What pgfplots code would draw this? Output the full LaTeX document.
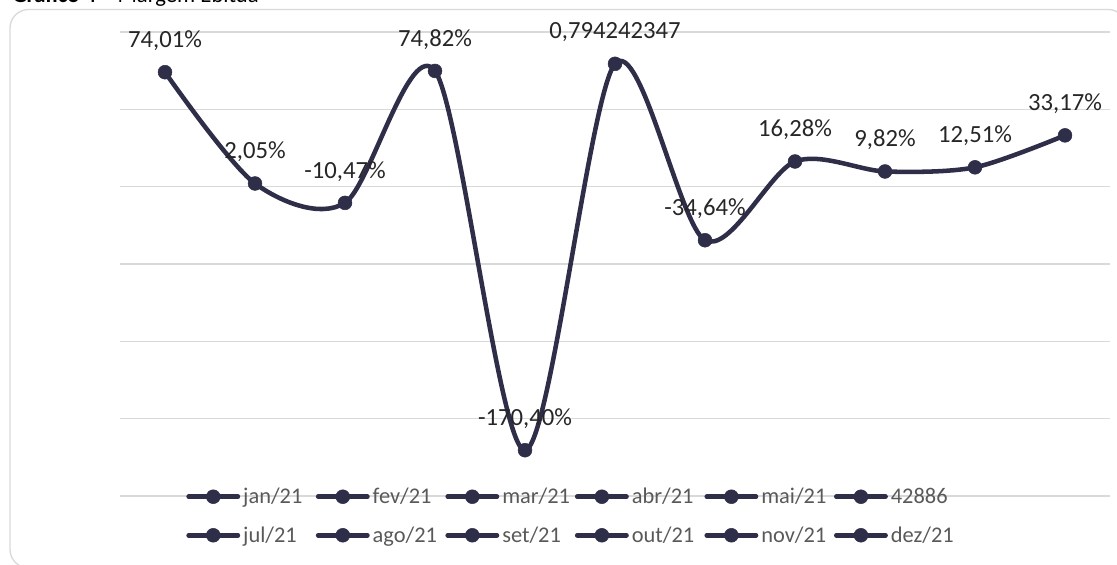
\documentclass[border=0pt]{standalone}
\usepackage{pgfplots}
\pgfplotsset{compat=1.18}
\usepackage{pgfplotstable}
\usepackage{fontspec}
\setmainfont{Carlito}
\definecolor{navy}{HTML}{2F2E49}
\definecolor{gridc}{HTML}{D9D9D9}
\definecolor{lbl}{HTML}{262626}
\definecolor{leg}{HTML}{595959}

\pgfplotstableread{
x y label
0 74.01 {74,01\%}
1 2.05 {2,05\%}
2 -10.47 {-10,47\%}
3 74.82 {74,82\%}
4 -170.40 {-170,40\%}
5 79.42 {0,794242347}
6 -34.64 {-34,64\%}
7 16.28 {16,28\%}
8 9.82 {9,82\%}
9 12.51 {12,51\%}
10 33.17 {33,17\%}
}\datatable

\pgfplotsset{serie/.style={color=navy, line width=3.4pt, line cap=round, line join=round, mark=*, mark size=5.2pt, mark options={fill=navy, draw=navy, line width=0.4pt}}}

\begin{document}
\begin{tikzpicture}
\useasboundingbox (0,0) rectangle (837.75pt,423pt);
\draw[gridc, line width=1pt, rounded corners=14pt] (7.5pt,415.9pt) rectangle (845pt,-3pt);
\node[anchor=base west, inner sep=0pt, font=\fontsize{17}{20}\selectfont, text=black] at (9pt,421.1pt) {\textbf{Gráfico 4} – Margem Ebitda};
\begin{axis}[
  at={(90pt,51pt)}, anchor=south west,
  scale only axis, width=742.5pt, height=348pt,
  xmin=-0.5, xmax=10.5, ymin=-200, ymax=100,
  xtick=\empty, ytick={-200,-150,...,100}, yticklabels={},
  ymajorgrids, grid style={gridc, line width=1.2pt},
  axis line style={draw=none}, major tick length=0pt,
  clip=false,
  nodes near coords, point meta=explicit symbolic,
  nodes near coords style={font=\fontsize{18.5}{20}\selectfont, text=lbl, anchor=center, yshift=23.5pt},
  legend columns=6,
  legend style={draw=none, fill=none, at={(0.0627,-0.0431)}, anchor=west,
    column sep=0pt, row sep=15.75pt, font=\fontsize{16.8}{18}\selectfont, text=leg,
    nodes={inner sep=0pt},
    /tikz/every even column/.append style={column sep=0pt}},
  legend image code/.code={\draw[mark repeat=2, mark phase=2, #1] plot coordinates {(0pt,0pt) (18.5pt,0pt) (37pt,0pt)};},
]
\addplot[serie, smooth] table[x=x, y=y, meta=label] {\datatable};
\addlegendentry{\makebox[56.75pt][l]{\hspace{2.25pt}jan/21}}
\addlegendimage{serie}\addlegendentry{\makebox[56.75pt][l]{\hspace{2.25pt}fev/21}}
\addlegendimage{serie}\addlegendentry{\makebox[56.75pt][l]{\hspace{2.25pt}mar/21}}
\addlegendimage{serie}\addlegendentry{\makebox[56.75pt][l]{\hspace{2.25pt}abr/21}}
\addlegendimage{serie}\addlegendentry{\makebox[56.75pt][l]{\hspace{2.25pt}mai/21}}
\addlegendimage{serie}\addlegendentry{\makebox[56.75pt][l]{\hspace{2.25pt}42886}}
\addlegendimage{serie}\addlegendentry{\makebox[56.75pt][l]{\hspace{2.25pt}jul/21}}
\addlegendimage{serie}\addlegendentry{\makebox[56.75pt][l]{\hspace{2.25pt}ago/21}}
\addlegendimage{serie}\addlegendentry{\makebox[56.75pt][l]{\hspace{2.25pt}set/21}}
\addlegendimage{serie}\addlegendentry{\makebox[56.75pt][l]{\hspace{2.25pt}out/21}}
\addlegendimage{serie}\addlegendentry{\makebox[56.75pt][l]{\hspace{2.25pt}nov/21}}
\addlegendimage{serie}\addlegendentry{\makebox[56.75pt][l]{\hspace{2.25pt}dez/21}}
\end{axis}
\end{tikzpicture}
\end{document}
